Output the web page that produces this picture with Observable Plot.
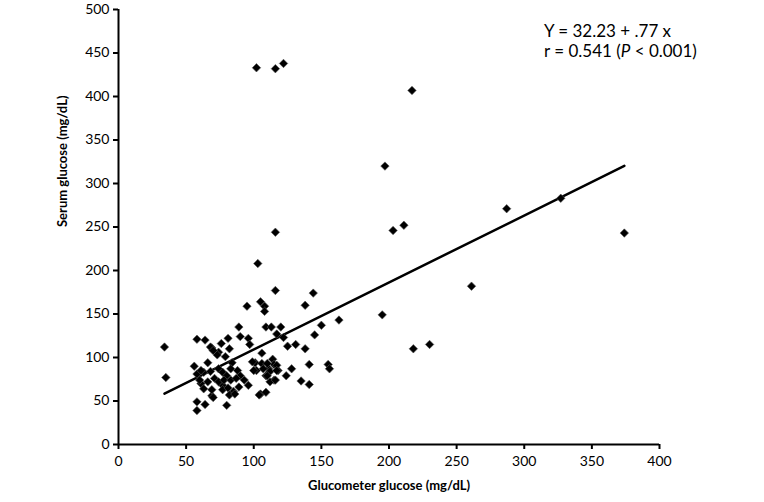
<!DOCTYPE html>
<html>
<head>
<meta charset="utf-8">
<script src="https://cdn.jsdelivr.net/npm/d3@7"></script>
<script src="https://cdn.jsdelivr.net/npm/@observablehq/plot@0.6"></script>
<style>
  html, body { margin: 0; padding: 0; background: #fff; }
  #wrap { position: relative; width: 764px; height: 502px; }
  #note { position: absolute; left: 544px; top: 21px; font-family: Lato, "Open Sans", sans-serif; font-size: 17px; line-height: 20px; color: #000; white-space: nowrap; }
</style>
</head>
<body>
<div id="wrap">
  <div id="chart"></div>
  <div id="note">Y = 32.23 + .77 x<br>r = 0.541 (<i>P</i> &lt; 0.001)</div>
</div>
<script>
// Glucometer glucose (mg/dL), x values
const glucometer = [
  102,116,122,217,197,287,327,203,211,374,261,195,144,138,150,163,145,138,141,155,
  156,135,141,218,230,116,103,116,95,105,108,108,89,109,113,120,90,96,58,64,
  81,117,122,125,131,97,76,82,74,79,106,101,106,114,115,111,118,128,102,124,
  109,115,112,105,109,80,34,35,69,73,66,56,58,63,58,64,58,61,66,69,
  77,68,70,61,68,74,77,80,84,88,90,83,60,71,74,78,83,87,93,96,
  63,69,77,81,85,89,82,86,70,99,100,110,117,107,112,117,110,116,104
];
// Serum glucose (mg/dL), y values
const serum = [
  433,432,438,407,320,271,283,246,252,243,182,149,174,160,137,143,126,110,92,92,
  87,73,69,110,115,244,208,177,159,164,159,153,135,135,135,135,124,122,121,120,
  122,127,123,113,115,115,116,110,106,101,105,94,93,98,92,87,85,87,85,79,
  79,74,72,58,60,45,112,77,111,103,94,90,81,83,49,46,39,70,72,56,
  68,112,108,85,84,87,83,79,94,85,79,87,74,76,72,74,74,76,74,68,
  64,63,63,65,61,66,57,58,54,95,85,93,91,87,84,85,79,74,57
];
// Regression reported on the chart
const fitIntercept = 32.23;
const fitSlope = 0.77;
// Tick labels
const xTicks = [0, 50, 100, 150, 200, 250, 300, 350, 400];
const yTicks = [0, 50, 100, 150, 200, 250, 300, 350, 400, 450, 500];
const xTitle = "Glucometer glucose (mg/dL)";
const yTitle = "Serum glucose (mg/dL)";

const points = glucometer.map((g, i) => ({g, s: serum[i]}));
const fitLine = d3.extent(glucometer).map(g => ({g, s: fitIntercept + fitSlope * g}));

const chart = Plot.plot({
  width: 764,
  height: 502,
  marginLeft: 118,
  marginRight: 105,
  marginTop: 9,
  marginBottom: 58,
  x: {domain: [0, 400]},
  y: {domain: [0, 500]},
  style: {fontFamily: "Lato, 'Open Sans', sans-serif", fontSize: "14px", color: "#000", background: "#fff"},
  marks: [
    Plot.axisX({ticks: xTicks, tickSize: 5, tickPadding: 7, tickFormat: d => String(d), label: null, strokeWidth: 2, fill: "#000"}),
    Plot.axisY({ticks: yTicks, tickSize: 5, tickPadding: 4, tickFormat: d => String(d), label: null, strokeWidth: 2, fill: "#000"}),
    Plot.ruleY([0], {stroke: "#000", strokeWidth: 2}),
    Plot.ruleX([0], {stroke: "#000", strokeWidth: 2}),
    Plot.line(fitLine, {x: "g", y: "s", stroke: "#000", strokeWidth: 2.5}),
    Plot.dot(points, {x: "g", y: "s", symbol: "diamond2", r: 3.8, fill: "#000", stroke: "#555", strokeWidth: 0.6}),
    Plot.text([xTitle], {frameAnchor: "bottom", dy: 45, text: d => d, fontWeight: "bold", fontSize: 13, fill: "#000"}),
    Plot.text([yTitle], {frameAnchor: "left", dx: -56, rotate: -90, text: d => d, fontWeight: "bold", fontSize: 13, fill: "#000"})
  ]
});
document.getElementById("chart").appendChild(chart);
</script>
</body>
</html>
